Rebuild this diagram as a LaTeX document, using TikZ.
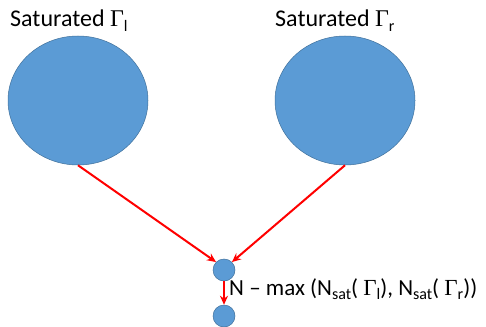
\documentclass[tikz,border=0pt]{standalone}
\usepackage{fontspec}
\setmainfont{Carlito}
\newfontfamily\gamfont{Liberation Serif}
\usetikzlibrary{arrows.meta,shapes.geometric}
\definecolor{blobfill}{HTML}{5B9BD5}
\definecolor{blobedge}{HTML}{41719C}
\tikzset{
  blob/.style={fill=blobfill,draw=blobedge,line width=0.5pt,inner sep=0pt},
  redarrow/.style={draw=red,line width=2pt,-{Stealth[length=9pt,width=8pt]}},
  lbl/.style={font=\fontsize{24}{28}\selectfont,inner sep=0pt,anchor=base west}
}
\begin{document}
\begin{tikzpicture}[x=1pt,y=-1pt]
\useasboundingbox (0,0) rectangle (486,326);
\node[blob,ellipse,minimum width=140pt,minimum height=129pt] (L) at (78,100.5) {};
\node[blob,ellipse,minimum width=140pt,minimum height=129pt] (R) at (345,100.5) {};
\node[blob,circle,minimum size=22pt] (M) at (224,270) {};
\node[blob,circle,minimum size=22pt] (B) at (224,316) {};
\node[lbl] (tl) at (10,27) {Saturated {\gamfont Γ}\raisebox{-5pt}{\fontsize{16}{18}\selectfont l}};
\node[lbl] (tr) at (275,27) {Saturated {\gamfont Γ}\raisebox{-5pt}{\fontsize{16}{18}\selectfont r}};
\node[lbl,font=\fontsize{23}{27}\selectfont] (f) at (229,295) {N – max (N\raisebox{-4pt}{\fontsize{16}{18}\selectfont sat}( {\gamfont Γ}\raisebox{-4pt}{\fontsize{16}{18}\selectfont l}), N\raisebox{-4pt}{\fontsize{16}{18}\selectfont sat}( {\gamfont Γ}\raisebox{-4pt}{\fontsize{16}{18}\selectfont r}))};
\draw[redarrow] (L.south) -- (M.north west);
\draw[redarrow] (R.south) -- (M.north east);
\draw[redarrow] (M.south) -- (B.north);
\end{tikzpicture}
\end{document}
